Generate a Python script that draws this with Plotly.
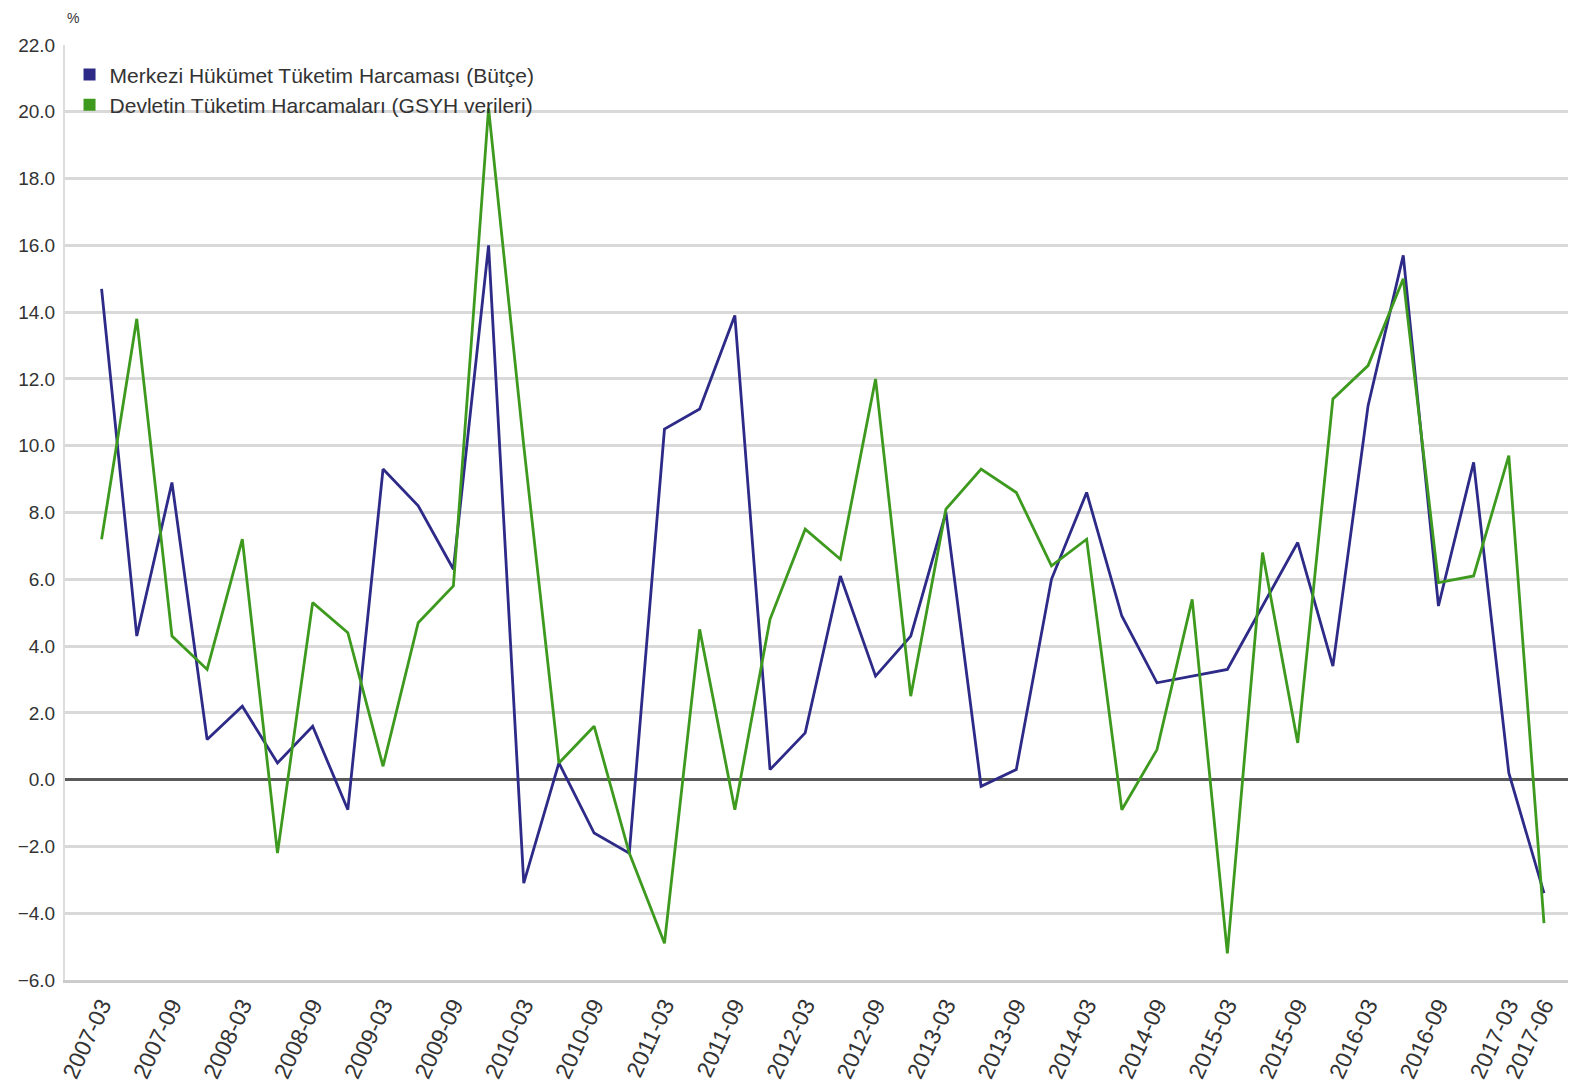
import plotly.graph_objects as go

quarters = [
    "2007-03", "2007-06", "2007-09", "2007-12",
    "2008-03", "2008-06", "2008-09", "2008-12",
    "2009-03", "2009-06", "2009-09", "2009-12",
    "2010-03", "2010-06", "2010-09", "2010-12",
    "2011-03", "2011-06", "2011-09", "2011-12",
    "2012-03", "2012-06", "2012-09", "2012-12",
    "2013-03", "2013-06", "2013-09", "2013-12",
    "2014-03", "2014-06", "2014-09", "2014-12",
    "2015-03", "2015-06", "2015-09", "2015-12",
    "2016-03", "2016-06", "2016-09", "2016-12",
    "2017-03", "2017-06",
]

merkezi = [
    14.7, 4.3, 8.9, 1.2, 2.2, 0.5, 1.6, -0.9, 9.3, 8.2, 6.3, 16.0,
    -3.1, 0.5, -1.6, -2.2, 10.5, 11.1, 13.9, 0.3, 1.4, 6.1, 3.1, 4.3,
    8.0, -0.2, 0.3, 6.0, 8.6, 4.9, 2.9, 3.1, 3.3, 5.2, 7.1, 3.4,
    11.2, 15.7, 5.2, 9.5, 0.2, -3.4,
]

devlet = [
    7.2, 13.8, 4.3, 3.3, 7.2, -2.2, 5.3, 4.4, 0.4, 4.7, 5.8, 20.1,
    10.0, 0.5, 1.6, -2.2, -4.9, 4.5, -0.9, 4.8, 7.5, 6.6, 12.0, 2.5,
    8.1, 9.3, 8.6, 6.4, 7.2, -0.9, 0.9, 5.4, -5.2, 6.8, 1.1, 11.4,
    12.4, 15.0, 5.9, 6.1, 9.7, -4.3,
]

tick_labels = [
    "2007-03", "2007-09", "2008-03", "2008-09", "2009-03", "2009-09",
    "2010-03", "2010-09", "2011-03", "2011-09", "2012-03", "2012-09",
    "2013-03", "2013-09", "2014-03", "2014-09", "2015-03", "2015-09",
    "2016-03", "2016-09", "2017-03", "2017-06",
]

names = [
    "Merkezi Hükümet Tüketim Harcaması (Bütçe)",
    "Devletin Tüketim Harcamaları (GSYH verileri)",
]
colors = ["#2d2a88", "#3d9a1e"]
y_ticks = [v for v in range(-6, 23, 2)]

fig = go.Figure()
for name, vals, col in zip(names, [merkezi, devlet], colors):
    fig.add_trace(go.Scatter(
        x=quarters, y=vals, mode="lines", name=name,
        line=dict(color=col, width=2.8), showlegend=False,
    ))
for name, col in zip(names, colors):
    fig.add_trace(go.Scatter(
        x=[None], y=[None], mode="markers", name=name,
        marker=dict(symbol="square", size=15, color=col),
    ))

font_family = "Liberation Sans, Arial, sans-serif"

fig.update_layout(
    width=1576, height=1091,
    margin=dict(l=57, r=8, t=37, b=119, autoexpand=False),
    paper_bgcolor="white", plot_bgcolor="white",
    font=dict(family=font_family, size=18, color="#333333"),
    legend=dict(
        x=0.003, y=0.99, xanchor="left", yanchor="top",
        bgcolor="rgba(0,0,0,0)", font=dict(size=21, color="#333333"),
        tracegroupgap=0, itemsizing="constant",
    ),
    xaxis=dict(
        type="category", categoryorder="array", categoryarray=quarters,
        range=[-1.04, 41.91],
        tickmode="array", tickvals=tick_labels, ticktext=tick_labels,
        tickangle=-65, showgrid=False, zeroline=False,
        showline=True, linecolor="#cccccc", linewidth=3,
        ticks="", tickfont=dict(size=23, color="#333333"),
    ),
    yaxis=dict(
        range=[-6, 22], tickmode="array", tickvals=y_ticks,
        tickformat=".1f", showgrid=True, gridcolor="#d9d9d9", gridwidth=2.5,
        zeroline=True, zerolinecolor="#5a5a5a", zerolinewidth=2.5,
        showline=True, linecolor="#dddddd", linewidth=2, mirror=False,
        ticks="", ticklabelstandoff=4, tickfont=dict(size=19, color="#333333"),
    ),
    annotations=[dict(
        text="%", xref="paper", yref="paper", x=0.0, y=1.029,
        xanchor="left", yanchor="middle", showarrow=False,
        font=dict(size=14, color="#333333"),
    )],
)

fig.write_html("out.html")
